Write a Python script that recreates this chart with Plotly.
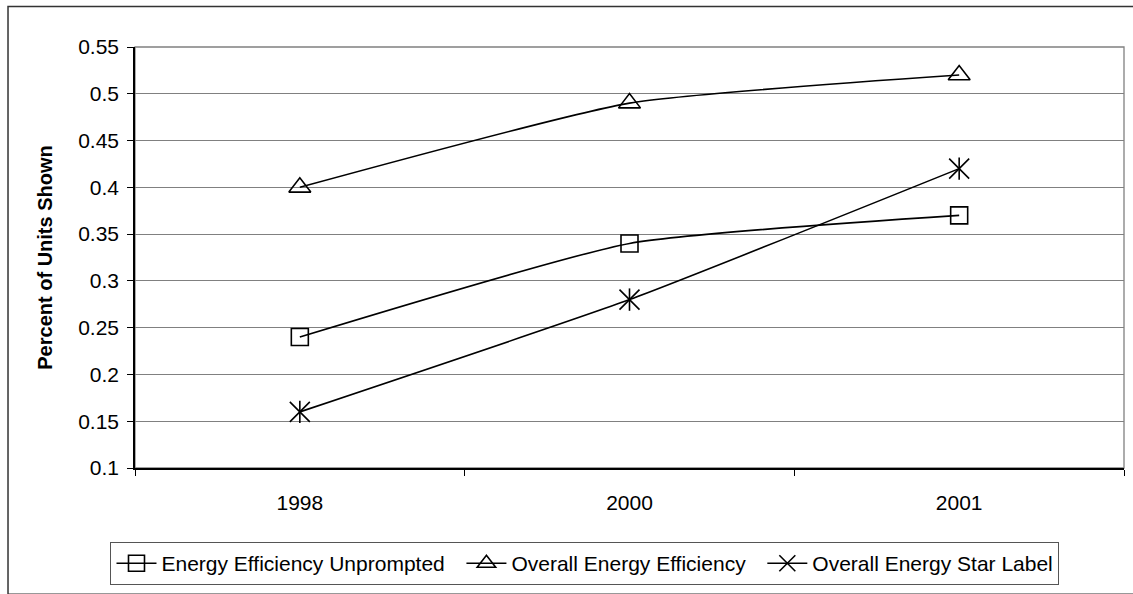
import plotly.graph_objects as go

categories = ["1998", "2000", "2001"]
unprompted = [0.24, 0.34, 0.37]
overall_ee = [0.40, 0.49, 0.52]
star_label = [0.16, 0.28, 0.42]
y_ticks = [0.1, 0.15, 0.2, 0.25, 0.3, 0.35, 0.4, 0.45, 0.5, 0.55]
y_tick_text = ["0.1", "0.15", "0.2", "0.25", "0.3", "0.35", "0.4", "0.45", "0.5", "0.55"]

FONT = "Arial, Liberation Sans, sans-serif"
line_style = dict(color="black", width=1.6, shape="spline", smoothing=0.5)

fig = go.Figure()
fig.add_trace(go.Scatter(
    x=categories, y=unprompted, name="Energy Efficiency Unprompted  ",
    mode="lines+markers", line=line_style,
    marker=dict(symbol="square-open", size=17, color="black", line=dict(width=1.6, color="black")),
))
fig.add_trace(go.Scatter(
    x=categories, y=overall_ee, name="Overall Energy Efficiency  ",
    mode="lines+markers", line=line_style,
    marker=dict(symbol="triangle-up-open", size=19, color="black", line=dict(width=1.6, color="black")),
))
fig.add_trace(go.Scatter(
    x=categories, y=star_label, name="Overall Energy Star Label",
    mode="lines+markers", line=line_style,
    marker=dict(symbol="x-thin-open", size=20, color="black", line=dict(width=1.6, color="black")),
))
fig.add_trace(go.Scatter(
    x=categories, y=star_label, mode="markers", showlegend=False, hoverinfo="skip",
    marker=dict(symbol="line-ns-open", size=16, color="black", line=dict(width=1.6, color="black")),
))

fig.update_layout(
    width=1133, height=594,
    margin=dict(l=135, r=9, t=47, b=121),
    paper_bgcolor="white", plot_bgcolor="white",
    font=dict(family=FONT, size=21, color="black"),
    showlegend=True,
    legend=dict(
        orientation="h", x=0.455, xanchor="center", y=-0.176, yanchor="top",
        bordercolor="#555555", borderwidth=1, bgcolor="white",
        font=dict(family=FONT, size=21, color="black"),
        itemwidth=40, tracegroupgap=0,
    ),
    xaxis=dict(
        type="category", range=[-0.5, 2.5], showgrid=False, showline=True,
        linecolor="black", linewidth=1.5,
        ticks="outside", tickson="boundaries", ticklen=6, tickcolor="black",
        tickfont=dict(family=FONT, size=21), ticklabelstandoff=15,
    ),
    yaxis=dict(
        range=[0.1, 0.55], tickvals=y_ticks, ticktext=y_tick_text,
        showgrid=True, gridcolor="#808080", gridwidth=1.3,
        showline=True, linecolor="black", linewidth=1.5,
        ticks="outside", ticklen=6, tickcolor="black",
        tickfont=dict(family=FONT, size=21), zeroline=False, ticklabelstandoff=4,
        title=dict(text="<b>Percent of Units Shown</b>", font=dict(family=FONT, size=20), standoff=20),
    ),
    shapes=[
        dict(type="rect", xref="paper", yref="paper", x0=0, x1=1, y0=0, y1=1,
             line=dict(color="#808080", width=1.3), fillcolor="rgba(0,0,0,0)", layer="below"),
        dict(type="rect", xref="paper", yref="paper", x0=-0.1284, x1=1.03, y0=-0.3, y1=1.0962,
             line=dict(color="#333333", width=1.5), fillcolor="rgba(0,0,0,0)", layer="below"),
    ],
)

fig.write_html("out.html")
